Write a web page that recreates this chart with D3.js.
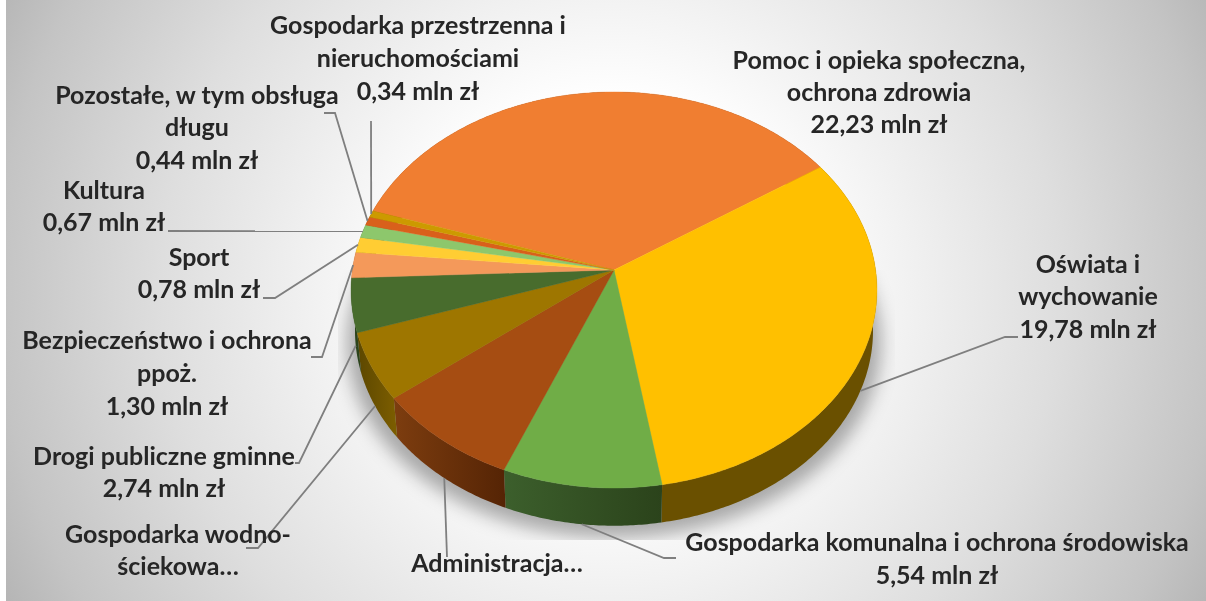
<!DOCTYPE html>
<html><head><meta charset="utf-8">
<script src="https://cdn.jsdelivr.net/npm/d3@7"></script>
<style>html,body{margin:0;padding:0;background:#fff;overflow:hidden}svg{display:block}text{font-family:Lato,"Open Sans",sans-serif;font-weight:700;fill:#262626}</style>
</head><body><svg id="c" width="1206" height="601"></svg>
<script>
// --- data (mln zł), clockwise from the large orange slice; hidden labels
const categories=["Pomoc i opieka społeczna, ochrona zdrowia","Oświata i wychowanie","Gospodarka komunalna i ochrona środowiska","Administracja","Gospodarka wodno-ściekowa","Drogi publiczne gminne","Bezpieczeństwo i ochrona ppoż.","Sport","Kultura","Pozostałe, w tym obsługa długu","Gospodarka przestrzenna i nieruchomościami"];
const values=[22.23,19.78,5.54,5.15,3.43,2.74,1.30,0.78,0.67,0.44,0.34];
const topColors=["#F07E31","#FFC000","#70AD47","#A64D12","#9E7600","#486C2D","#F4995A","#FFCD33","#8DC76C","#D9601B","#CC9A00"];
const wallLeft=["#7a4018","#6a5000","#3c5f2c","#7d3d0f","#5c4700","#2b431b","#7a4d2d","#806619","#466336","#6d300e","#664d00"];
const wallRight=["#7a4018","#6a5000","#2b431b","#552405","#7d5e00","#2b431b","#7a4d2d","#806619","#466336","#6d300e","#664d00"];
const labelLines=[["Pomoc i opieka społeczna,","ochrona zdrowia","22,23 mln zł"],["Oświata i","wychowanie","19,78 mln zł"],["Gospodarka komunalna i ochrona środowiska","5,54 mln zł"],["Administracja…"],["Gospodarka wodno-","ściekowa…"],["Drogi publiczne gminne","2,74 mln zł"],["Bezpieczeństwo i ochrona","ppoż.","1,30 mln zł"],["Sport","0,78 mln zł"],["Kultura","0,67 mln zł"],["Pozostałe, w tym obsługa","długu","0,44 mln zł"],["Gospodarka przestrzenna i","nieruchomościami","0,34 mln zł"]];
// --- layout: label centre x, first line centre y, line pitch
const labelX=[879,1088,937,497,178,164,167,199,104,197,418];
const labelY=[60,264,542,563,534,456,340,257,190,95,25];
const linePitch=[32,32.5,33,33,32,32,33,32,32,32.5,33];
// leader polylines: text-side points, then slice anchor (null = no leader); depth: 1 = anchor on lower rim
const leaderText=[null,[[1018,337],[1005,337]],[[676,558],[664,558]],[[447,557]],[[246,548],[258,548]],[[295,463],[299,463]],[[311,357],[322,357]],[[263,298],[275,298]],[[168,231]],[[324,113],[335,113]],[[371,121]]];
const leaderDepth=[0,1,1,1,1,1,0,0,0,0,0];

const W=1206,H=601,cx=614,cy=270,a=261.6,b=196,c=0.101,depthY=41,depthS=0.985;
function project(t,r,d){ // t clockwise from back (radians); perspective-tilted disc
  const u=r*Math.sin(t),v=-r*Math.cos(t),q=1-c*v,s=1-(1-depthS)*d;
  return [cx+s*a*u/q, cy+s*b*v/q+depthY*d];
}
const svg=d3.select("#c"),defs=svg.append("defs");
const bg=defs.append("radialGradient").attr("id","bg").attr("gradientUnits","userSpaceOnUse").attr("cx",610).attr("cy",290).attr("r",680);
[[0,"#fff"],[.28,"#fff"],[.66,"#dedede"],[.9,"#c4c4c4"],[1,"#b5b5b5"]].forEach(s=>bg.append("stop").attr("offset",s[0]).attr("stop-color",s[1]));
defs.append("filter").attr("id","blur").attr("x","-20%").attr("y","-20%").attr("width","140%").attr("height","140%").append("feGaussianBlur").attr("stdDeviation",9);
defs.append("filter").attr("id","soft").append("feGaussianBlur").attr("stdDeviation",0.35);
defs.append("clipPath").attr("id","sh").append("rect").attr("x",338).attr("y",270).attr("width",557).attr("height",270);
svg.append("rect").attr("x",6).attr("y",0).attr("width",W-6).attr("height",H).attr("fill","url(#bg)");

const startDeg=-71.9*Math.PI/180;
const arcs=d3.pie().sort(null).value(d=>d).startAngle(startDeg).endAngle(startDeg+2*Math.PI)(values);
const line=d3.line();
const sweep=(a0,a1,d)=>{const n=Math.max(2,Math.ceil((a1-a0)/0.01));return d3.range(n+1).map(i=>project(a0+(a1-a0)*i/n,1,d));};

// shadow
const all=sweep(startDeg,startDeg+2*Math.PI,1).map(p=>[cx+(p[0]-cx)*1.03,p[1]+12]);
svg.append("g").attr("clip-path","url(#sh)").append("path").attr("d",line(all)+"Z").attr("fill","#000").attr("fill-opacity",.32).attr("filter","url(#blur)");

// walls
arcs.forEach((d,i)=>{
  const id="w"+i,g=defs.append("linearGradient").attr("id",id);
  g.append("stop").attr("offset",0).attr("stop-color",wallLeft[i]);
  g.append("stop").attr("offset",1).attr("stop-color",wallRight[i]);
  const pts=sweep(d.startAngle,d.endAngle,0).concat(sweep(d.startAngle,d.endAngle,1).reverse());
  svg.append("path").attr("d",line(pts)+"Z").attr("fill",`url(#${id})`);
});
// top surface
arcs.forEach((d,i)=>{
  const pts=[[cx,cy]].concat(sweep(d.startAngle,d.endAngle,0));
  svg.append("path").attr("d",line(pts)+"Z").attr("fill",topColors[i]).attr("stroke",topColors[i]).attr("stroke-width",.4);
});
// leaders
arcs.forEach((d,i)=>{
  if(!leaderText[i])return;
  const anchor=project((d.startAngle+d.endAngle)/2,1,leaderDepth[i]);
  svg.append("path").attr("d",line(leaderText[i].concat([anchor]))).attr("fill","none").attr("stroke","#7f7f7f").attr("stroke-width",1.8);
});
// labels
const tg=svg.append("g").attr("filter","url(#soft)");
labelLines.forEach((lines,i)=>lines.forEach((t,j)=>{
  tg.append("text").attr("x",labelX[i]).attr("y",labelY[i]+j*linePitch[i]).attr("dy","0.35em").attr("text-anchor","middle").attr("font-size",25).text(t);
}));
</script></body></html>
